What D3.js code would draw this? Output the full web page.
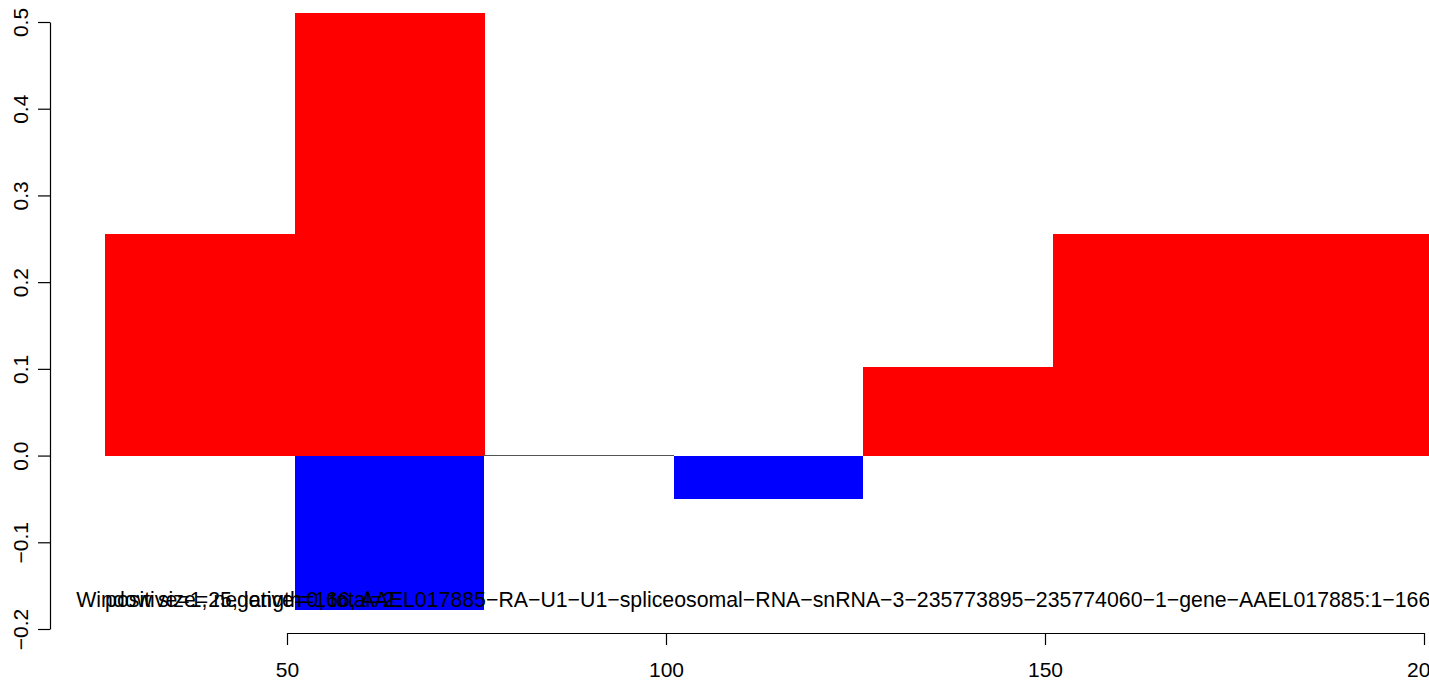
<!DOCTYPE html>
<html>
<head>
<meta charset="utf-8">
<script src="https://cdn.jsdelivr.net/npm/d3@7"></script>
<style>
  body { margin: 0; background: #fff; }
  svg { display: block; font-family: "Liberation Sans", Arial, Helvetica, sans-serif; }
</style>
</head>
<body>
<svg id="chart" width="1429" height="682"></svg>
<script>
// window starts (window size 25)
var winStart = [26, 51, 76, 101, 126, 151, 176];
var winSize = 25;
// positive / negative values per window
var posVals = [0.256, 0.510, 0, 0, 0.102, 0.256, 0.256];
var negVals = [0, -0.178, 0, -0.050, 0, 0, 0];
var xTicks = [50, 100, 150, 200];
var yTicks = [-0.2, -0.1, 0.0, 0.1, 0.2, 0.3, 0.4, 0.5];
// two annotation strings drawn on top of each other, as in the original
var labels = [
    { x: 22.2, t: "Window size=25, length=166, AAEL017885\u2212RA\u2212U1\u2212U1\u2212spliceosomal\u2212RNA\u2212snRNA\u22123\u2212235773895\u2212235774060\u22121\u2212gene\u2212AAEL017885:1\u2212166" },
    { x: 26, t: "positive=1, negative=0, total=2" }
];

const svg = d3.select('#chart');

const x = d3.scaleLinear().domain([50, 200]).range([287, 1424]);
const y = d3.scaleLinear().domain([-0.2, 0.5]).range([629, 22]);

const data = winStart.map((s, i) => ({ s: s, pos: posVals[i], neg: negVals[i] }));

// red bars (positive)
svg.append("g").attr("shape-rendering", "crispEdges").selectAll("rect")
    .data(data.filter(d => d.pos > 0))
    .join("rect")
    .attr("x", d => x(d.s))
    .attr("width", d => x(d.s + winSize) - x(d.s) + 0.5)
    .attr("y", d => y(d.pos))
    .attr("height", d => y(0) - y(d.pos))
    .attr("fill", "#ff0000");

// blue bars (negative)
svg.append("g").attr("shape-rendering", "crispEdges").selectAll("rect")
    .data(data.filter(d => d.neg < 0))
    .join("rect")
    .attr("x", d => x(d.s))
    .attr("width", d => x(d.s + winSize) - x(d.s))
    .attr("y", y(0))
    .attr("height", d => y(d.neg) - y(0))
    .attr("fill", "#0000ff");

// empty windows show as a thin line at zero
svg.append("g").attr("shape-rendering", "crispEdges").selectAll("line")
    .data(data.filter(d => d.pos == 0 && d.neg == 0))
    .join("line")
    .attr("x1", d => x(d.s))
    .attr("x2", d => x(d.s + winSize))
    .attr("y1", y(0))
    .attr("y2", y(0))
    .attr("stroke", "#555")
    .attr("stroke-width", 1);

// overlapping annotation texts
svg.append("g").selectAll("text")
    .data(labels)
    .join("text")
    .attr("x", d => x(d.x))
    .attr("y", y(-0.175))
    .attr("font-size", 21.3)
    .attr("fill", "#000")
    .text(d => d.t);

// x axis
const xAxis = svg.append("g")
    .attr("transform", "translate(0,633)")
    .call(d3.axisBottom(x).tickValues(xTicks).tickSize(12).tickSizeOuter(0).tickFormat(d3.format("d")));
xAxis.attr("font-family", null);
xAxis.selectAll("text").attr("font-size", 21).attr("fill", "#000").attr("dy", null).attr("y", 44);
xAxis.selectAll("line, path").attr("stroke", "#000").attr("stroke-width", 1.2);

// y axis
const fmt = v => (v < 0 ? "\u2212" : "") + Math.abs(v).toFixed(1);
const yAxis = svg.append("g")
    .attr("transform", "translate(50,0)")
    .call(d3.axisLeft(y).tickValues(yTicks).tickSize(12).tickSizeOuter(0).tickFormat(fmt));
yAxis.attr("font-family", null);
yAxis.selectAll("line, path").attr("stroke", "#000").attr("stroke-width", 1.2);
yAxis.selectAll("text")
    .attr("font-size", 21)
    .attr("fill", "#000")
    .attr("x", null).attr("dy", null)
    .attr("text-anchor", "middle")
    .attr("transform", "translate(-22,0) rotate(-90)");
</script>
</body>
</html>
